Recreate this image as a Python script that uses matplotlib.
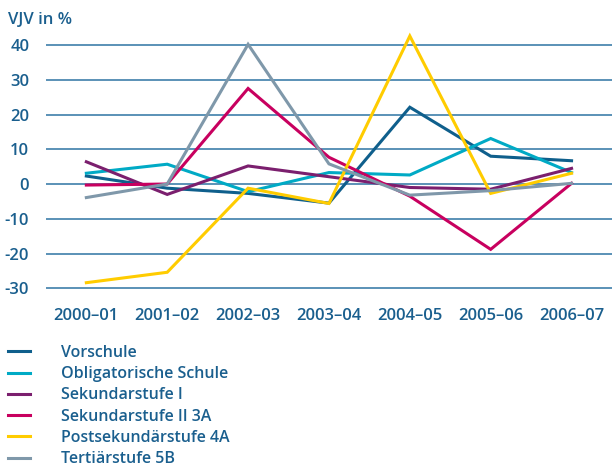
import matplotlib
matplotlib.use("Agg")
import matplotlib.pyplot as plt
import numpy as np

# school years on the x axis
years = ["2000–01", "2001–02", "2002–03", "2003–04", "2004–05", "2005–06", "2006–07"]

# VJV in % per level
vorschule = [2.3, -1.2, -2.7, -5.5, 22.1, 8.0, 6.7]
obligatorisch = [3.1, 5.7, -2.2, 3.3, 2.6, 13.1, 3.3]
sek1 = [6.4, -3.0, 5.2, 2.1, -1.0, -1.5, 4.5]
sek2_3a = [-0.3, 0.0, 27.5, 7.7, -3.5, -18.8, 0.2]
postsek_4a = [-28.4, -25.4, -1.2, -5.6, 42.6, -2.7, 3.1]
tert_5b = [-3.9, 0.0, 40.2, 5.8, -3.2, -1.9, 0.2]

labels = ["Vorschule", "Obligatorische Schule", "Sekundarstufe I",
          "Sekundarstufe II 3A", "Postsekundärstufe 4A", "Tertiärstufe 5B"]
colors = ["#0f5f8c", "#00aac5", "#7b1f6e", "#c8005f", "#ffcc00", "#7f98aa"]
series = [vorschule, obligatorisch, sek1, sek2_3a, postsek_4a, tert_5b]

yticks = [-30, -20, -10, 0, 10, 20, 30, 40]
txt = "#1a5f8e"

plt.rcParams['font.family'] = ['Open Sans', 'DejaVu Sans']

fig = plt.figure(figsize=(6.12, 4.66), dpi=100)
ax = fig.add_axes([0.075, 0.3665, 0.925, 0.5667])

x = np.arange(len(years))
for vals, lab, col in zip(series, labels, colors):
    ax.plot(x, vals, color=col, lw=2.2, label=lab, solid_joinstyle='miter')

ax.set_xlim(-0.5, 6.5)
ax.set_ylim(-32, 44)
ax.set_yticks(yticks)
ax.set_yticklabels([str(v) for v in yticks])
ax.set_xticks(x)
ax.set_xticklabels(years)
ax.tick_params(length=0, labelsize=12, labelcolor=txt)
ax.tick_params(axis='x', pad=9)
ax.tick_params(axis='y', pad=12)
for lbl in ax.get_xticklabels() + ax.get_yticklabels():
    lbl.set_fontweight('semibold')
ax.yaxis.grid(True, color="#2e74a3", lw=1.1)
ax.set_axisbelow(True)
for s in ax.spines.values():
    s.set_visible(False)

fig.text(0.013, 0.957, "VJV in %", fontsize=12, color=txt, fontweight='semibold',
         va='center', ha='left')

fig.legend(loc='upper left', bbox_to_anchor=(0.013, 0.26), frameon=False,
           labelcolor=txt, handlelength=1.4, handletextpad=1.95,
           labelspacing=0.33, borderpad=0, borderaxespad=0,
           prop={'weight': 'semibold', 'size': 11.5})

fig.savefig("out.png", dpi=100)
